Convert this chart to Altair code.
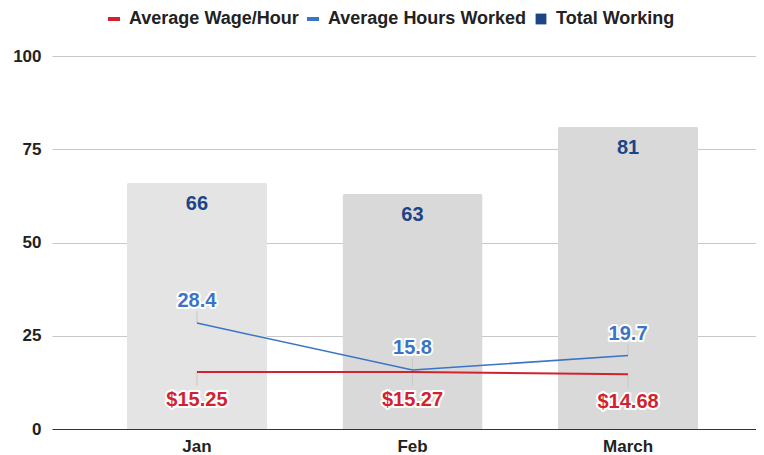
import altair as alt
import pandas as pd

# ---- data ----
months = ["Jan", "Feb", "March"]
total_working = [66, 63, 81]
avg_hours = [28.4, 15.8, 19.7]
avg_wage = [15.25, 15.27, 14.68]
wage_labels = ["$15.25", "$15.27", "$14.68"]
series = ["Average Wage/Hour", "Average Hours Worked", "Total Working"]
y_ticks = [0, 25, 50, 75, 100]

df = pd.DataFrame({
    "month": months,
    "total": total_working,
    "hours": avg_hours,
    "wage": avg_wage,
    "wage_label": wage_labels,
})
leg = pd.DataFrame({"series": series})

RED = "#d3222f"
BLUE = "#3a74c6"
NAVY = "#1c4587"
FONT = "Liberation Sans, Arial, Helvetica, sans-serif"

W, H = 704, 373

x_enc = alt.X(
    "month:N", sort=months, title=None,
    scale=alt.Scale(paddingInner=0.35, paddingOuter=0.308, align=0.564),
    axis=alt.Axis(labelAngle=0, labelFontSize=17, labelFontWeight="bold",
                  labelColor="#222222", labelFont=FONT, labelPadding=9,
                  ticks=False, domainColor="#333333", domainWidth=1.2, grid=False),
)
y_scale = alt.Scale(domain=[0, 100], nice=False)
y_axis = alt.Axis(values=y_ticks, labelFontSize=17, labelFontWeight="bold",
                  labelColor="#222222", labelFont=FONT, labelPadding=11,
                  ticks=False, domain=False, grid=True, gridColor="#c8c8c8")

base = alt.Chart(df)

bars = base.mark_bar(cornerRadiusTopLeft=2, cornerRadiusTopRight=2).encode(
    x=x_enc,
    y=alt.Y("total:Q", scale=y_scale, axis=y_axis, title=None),
    fill=alt.Fill("month:N", scale=alt.Scale(domain=months, range=["#e4e4e4", "#d9d9d9", "#d9d9d9"]), legend=None),
)

bar_text = base.mark_text(dy=21, baseline="middle", fontSize=20, fontWeight="bold", font=FONT, color=NAVY).encode(
    x=alt.X("month:N", sort=months), y=alt.Y("total:Q", scale=y_scale), text="total:Q"
)

lead_blue = base.mark_rule(color="#c8c8c8", strokeWidth=1, y2Offset=-12).encode(
    x=alt.X("month:N", sort=months), y=alt.Y("hours:Q", scale=y_scale), y2="hours:Q"
)
lead_red = base.mark_rule(color="#c8c8c8", strokeWidth=1, y2Offset=14).encode(
    x=alt.X("month:N", sort=months), y=alt.Y("wage:Q", scale=y_scale), y2="wage:Q"
)

line_red = base.mark_line(color=RED, strokeWidth=2).encode(
    x=alt.X("month:N", sort=months), y=alt.Y("wage:Q", scale=y_scale)
)
line_blue = base.mark_line(color=BLUE, strokeWidth=1.6).encode(
    x=alt.X("month:N", sort=months), y=alt.Y("hours:Q", scale=y_scale)
)

def label(field, text_field, color, dy):
    halo = base.mark_text(dy=dy, baseline="middle", fontSize=20, fontWeight="bold", font=FONT,
                          color="white", stroke="white", strokeWidth=4, strokeJoin="round").encode(
        x=alt.X("month:N", sort=months), y=alt.Y(f"{field}:Q", scale=y_scale), text=f"{text_field}")
    txt = base.mark_text(dy=dy, baseline="middle", fontSize=20, fontWeight="bold", font=FONT,
                         color=color).encode(
        x=alt.X("month:N", sort=months), y=alt.Y(f"{field}:Q", scale=y_scale), text=f"{text_field}")
    return [halo, txt]

blue_labels = label("hours", "hours:Q", BLUE, -22)
red_labels = label("wage", "wage_label:N", RED, 28)

dash = "M-1,-0.33H1V0.33H-1Z"
rect = "M-0.9,-0.9H0.9V0.9H-0.9Z"
legend_def = alt.Legend(
    title=None, orient="none", direction="horizontal", legendX=53, legendY=-46,
    labelFont=FONT, labelFontSize=18, labelFontWeight="bold", labelColor="#222222",
    labelLimit=400, symbolSize=144, symbolOpacity=1, symbolStrokeWidth=0,
    labelOffset=6, columnPadding=5,
)
legend_layer = alt.Chart(leg).mark_point(filled=True, opacity=0).encode(
    color=alt.Color("series:N", sort=series, scale=alt.Scale(domain=series, range=[RED, BLUE, NAVY]), legend=legend_def),
    shape=alt.Shape("series:N", sort=series, scale=alt.Scale(domain=series, range=[dash, dash, rect]), legend=legend_def),
)

chart = alt.layer(
    bars, bar_text, lead_blue, lead_red, line_red, line_blue,
    *blue_labels, *red_labels, legend_layer,
).properties(
    width=W, height=H,
    autosize=alt.AutoSizeParams(type="none"),
    padding={"left": 44, "top": 48, "right": 0, "bottom": 30},
).configure_view(stroke=None)

chart.save("out.html", embed_options={"renderer": "svg", "actions": False})
